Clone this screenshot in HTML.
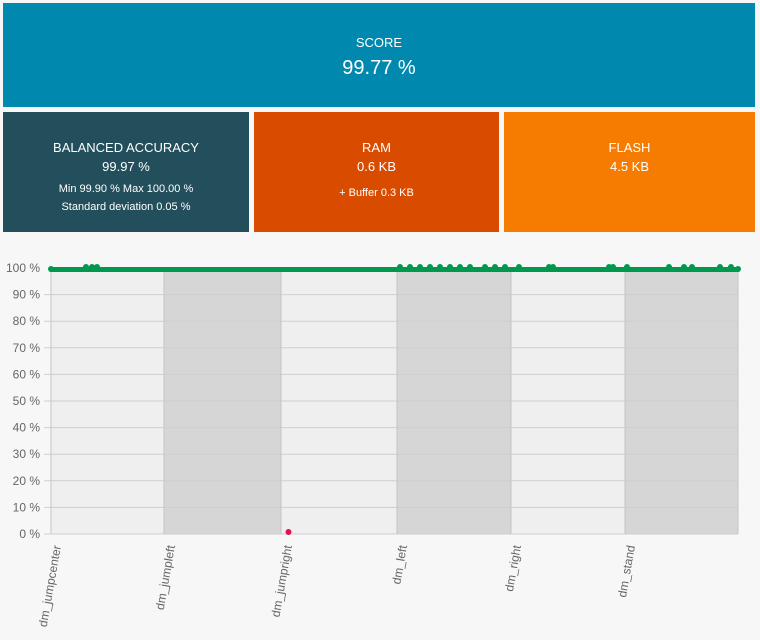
<!DOCTYPE html>
<html><head><style>
body{margin:0;width:760px;height:640px;background:#f7f7f7;font-family:"Liberation Sans",sans-serif;position:relative;overflow:hidden}
.c{position:absolute;color:#fff;text-align:center}
</style></head><body>
<div class="c" style="left:3px;top:3px;width:752px;height:104px;background:#0088ae">
<div style="margin-top:32px;font-size:13px">SCORE</div>
<div style="margin-top:7px;font-size:20px">99.77 %</div></div>
<div class="c" style="left:3px;top:112px;width:246px;height:120px;background:#234f5c">
<div style="margin-top:28px;font-size:13px">BALANCED ACCURACY</div>
<div style="margin-top:4px;font-size:13px">99.97 %</div>
<div style="margin-top:9px;font-size:11px">Min 99.90 % Max 100.00 %</div>
<div style="margin-top:6px;font-size:11px">Standard deviation 0.05 %</div></div>
<div class="c" style="left:254px;top:112px;width:245px;height:120px;background:#d94c00">
<div style="margin-top:28px;font-size:13px">RAM</div>
<div style="margin-top:4px;font-size:13px">0.6 KB</div>
<div style="margin-top:13px;font-size:11px">+ Buffer 0.3 KB</div></div>
<div class="c" style="left:504px;top:112px;width:251px;height:120px;background:#f57c00">
<div style="margin-top:28px;font-size:13px">FLASH</div>
<div style="margin-top:4px;font-size:13px">4.5 KB</div></div>
<svg style="position:absolute;left:0;top:0" width="760" height="640" font-family="Liberation Sans, sans-serif">
<rect x="51" y="268" width="113" height="266" fill="#efefef"/>
<rect x="164" y="268" width="117" height="266" fill="#d6d6d6"/>
<rect x="281" y="268" width="116" height="266" fill="#efefef"/>
<rect x="397" y="268" width="114" height="266" fill="#d6d6d6"/>
<rect x="511" y="268" width="114" height="266" fill="#efefef"/>
<rect x="625" y="268" width="113" height="266" fill="#d6d6d6"/>
<g stroke="#cfcfcf" stroke-width="1">
<line x1="44" x2="738" y1="294.6" y2="294.6"/><line x1="44" x2="738" y1="321.2" y2="321.2"/>
<line x1="44" x2="738" y1="347.8" y2="347.8"/><line x1="44" x2="738" y1="374.4" y2="374.4"/>
<line x1="44" x2="738" y1="401" y2="401"/><line x1="44" x2="738" y1="427.6" y2="427.6"/>
<line x1="44" x2="738" y1="454.2" y2="454.2"/><line x1="44" x2="738" y1="480.8" y2="480.8"/>
<line x1="44" x2="738" y1="507.4" y2="507.4"/><line x1="44" x2="738" y1="534" y2="534"/>
</g>
<g stroke="#c4c4c4" stroke-width="1">
<line x1="51" x2="51" y1="268" y2="534"/><line x1="164" x2="164" y1="268" y2="534"/>
<line x1="281" x2="281" y1="268" y2="534"/><line x1="397" x2="397" y1="268" y2="534"/>
<line x1="511" x2="511" y1="268" y2="534"/><line x1="625" x2="625" y1="268" y2="534"/>
<line x1="738" x2="738" y1="268" y2="534"/>
</g>
<g font-size="12" fill="#666" text-anchor="end">
<text x="40" y="272">100 %</text><text x="40" y="298.6">90 %</text><text x="40" y="325.2">80 %</text>
<text x="40" y="351.8">70 %</text><text x="40" y="378.4">60 %</text><text x="40" y="405">50 %</text>
<text x="40" y="431.6">40 %</text><text x="40" y="458.2">30 %</text><text x="40" y="484.8">20 %</text>
<text x="40" y="511.4">10 %</text><text x="40" y="538">0 %</text>
</g>
<g font-size="12" fill="#666" text-anchor="end">
<text transform="translate(61,546) rotate(-80)">dm_jumpcenter</text>
<text transform="translate(175,546) rotate(-80)">dm_jumpleft</text>
<text transform="translate(292,546) rotate(-80)">dm_jumpright</text>
<text transform="translate(407,546) rotate(-80)">dm_left</text>
<text transform="translate(521,546) rotate(-80)">dm_right</text>
<text transform="translate(635,546) rotate(-80)">dm_stand</text>
</g>
<line x1="51" x2="738" y1="269.5" y2="269.5" stroke="#00984f" stroke-width="5" stroke-linecap="round"/>
<g fill="#00984f">
<circle cx="86" cy="267" r="3"/><circle cx="92" cy="267" r="3"/><circle cx="97" cy="267" r="3"/>
<circle cx="400" cy="267" r="3"/><circle cx="410" cy="267" r="3"/><circle cx="420" cy="267" r="3"/>
<circle cx="430" cy="267" r="3"/><circle cx="440" cy="267" r="3"/><circle cx="450" cy="267" r="3"/>
<circle cx="460" cy="267" r="3"/><circle cx="470" cy="267" r="3"/><circle cx="485" cy="267" r="3"/>
<circle cx="495" cy="267" r="3"/><circle cx="505" cy="267" r="3"/><circle cx="519" cy="267" r="3"/>
<circle cx="549" cy="267" r="3"/><circle cx="553" cy="267" r="3"/><circle cx="609" cy="267" r="3"/>
<circle cx="613" cy="267" r="3"/><circle cx="627" cy="267" r="3"/><circle cx="669" cy="267" r="3"/>
<circle cx="684" cy="267" r="3"/><circle cx="692" cy="267" r="3"/><circle cx="720" cy="267" r="3"/>
<circle cx="731" cy="267" r="3"/><circle cx="738" cy="269" r="3"/><circle cx="51" cy="269" r="3"/>
</g>
<circle cx="288.5" cy="532" r="3" fill="#e0144c"/>
</svg>
</body></html>
